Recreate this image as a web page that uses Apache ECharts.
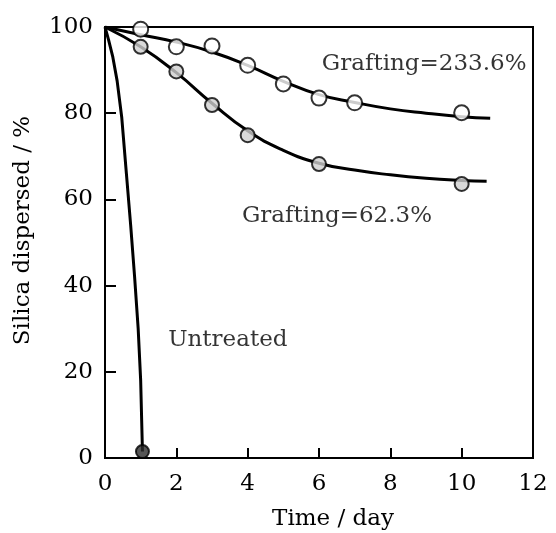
<!DOCTYPE html>
<html>
<head>
<meta charset="utf-8">
<script src="https://cdn.jsdelivr.net/npm/echarts@6/dist/echarts.min.js"></script>
<style>
html,body{margin:0;padding:0;background:#fff;}
#c{width:556px;height:533px;}
</style>
</head>
<body>
<div id="c"></div>
<script>
// Axis ticks
var xTicks = [0, 2, 4, 6, 8, 10, 12];
var yTicks = [0, 20, 40, 60, 80, 100];

// Measured points: Grafting = 233.6% (open circles)
var g233Days = [1, 2, 3, 4, 5, 6, 7, 10];
var g233Vals = [99.5, 95.4, 95.6, 91.1, 86.8, 83.5, 82.4, 80.1];

// Measured points: Grafting = 62.3% (shaded circles)
var g62Days = [1, 2, 3, 4, 6, 10];
var g62Vals = [95.4, 89.7, 81.9, 74.9, 68.2, 63.6];

// Measured point: Untreated
var untDays = [1.05];
var untVals = [1.5];

// Fitted curves
var g233CurveX = [0, 1, 2, 3, 4, 5, 6, 7, 8, 9, 10, 10.8];
var g233CurveY = [100, 98.2, 96.5, 94.2, 91.1, 87.4, 84.3, 82.5, 81.0, 80.0, 79.2, 78.8];
var g62CurveX = [0, 1, 2, 3, 4, 5, 6, 7, 8, 9, 10, 10.7];
var g62CurveY = [100, 95.4, 89.4, 82.3, 75.9, 71.4, 68.4, 66.8, 65.7, 64.9, 64.4, 64.2];
var untCurveX = [0, 0.1, 0.22, 0.34, 0.47, 0.6, 0.72, 0.83, 0.93, 1.0, 1.05];
var untCurveY = [100, 97, 93, 87.5, 79, 66, 54, 42, 30, 18, 1.5];

// Annotation texts and anchor (data coords, left edge / vertical centre)
var annoText = ['Grafting=233.6%', 'Grafting=62.3%', 'Untreated'];
var annoX = [6.08, 3.84, 1.77];
var annoY = [91.4, 56.1, 27.4];

function zip(a, b) { return a.map(function (v, i) { return [v, b[i]]; }); }

var FONT = 'DejaVu Serif';
var chart = echarts.init(document.getElementById('c'), null, {renderer: 'canvas'});

var curveStyle = {color: '#000', width: 3, join: 'round'};

chart.setOption({
  animation: false,
  backgroundColor: '#fff',
  grid: {left: 105, right: 23, top: 27, bottom: 75, show: true, borderColor: '#000', borderWidth: 2, backgroundColor: 'transparent', containLabel: false, outerBoundsMode: 'none'},
  xAxis: {
    type: 'value', min: xTicks[0], max: xTicks[xTicks.length - 1], interval: 2,
    name: 'Time / day', nameLocation: 'middle', nameGap: 50,
    nameTextStyle: {fontFamily: FONT, fontSize: 23, color: '#000', padding: [0, 0, 0, 28]},
    axisLine: {show: true, lineStyle: {color: '#000', width: 2}},
    axisTick: {show: true, inside: true, length: 10, lineStyle: {color: '#000', width: 2}},
    axisLabel: {fontFamily: FONT, fontSize: 23, color: '#000', margin: 15},
    splitLine: {show: false}
  },
  yAxis: {
    type: 'value', min: yTicks[0], max: yTicks[yTicks.length - 1], interval: 20,
    name: 'Silica dispersed / %', nameLocation: 'middle', nameGap: 70,
    nameTextStyle: {fontFamily: FONT, fontSize: 23, color: '#000', padding: [0, 0, 0, 24]},
    axisLine: {show: true, lineStyle: {color: '#000', width: 2}},
    axisTick: {show: true, inside: true, length: 11, lineStyle: {color: '#000', width: 2}},
    axisLabel: {fontFamily: FONT, fontSize: 23, color: '#000', margin: 12},
    splitLine: {show: false}
  },
  series: [
    {type: 'line', data: zip(untCurveX, untCurveY), smooth: false, showSymbol: false, lineStyle: curveStyle, z: 2},
    {type: 'line', data: zip(g233CurveX, g233CurveY), smooth: 0.5, showSymbol: false, lineStyle: curveStyle, z: 2},
    {type: 'line', data: zip(g62CurveX, g62CurveY), smooth: 0.5, showSymbol: false, lineStyle: curveStyle, z: 2},
    {type: 'scatter', data: zip(g233Days, g233Vals), symbol: 'circle', symbolSize: 15,
     itemStyle: {color: '#fff', borderColor: '#000', borderWidth: 2}, z: 5},
    {type: 'scatter', data: zip(g62Days, g62Vals), symbol: 'circle', symbolSize: 14,
     itemStyle: {color: '#cfcfcf', borderColor: '#000', borderWidth: 2}, z: 5},
    {type: 'scatter', data: zip(untDays, untVals), symbol: 'circle', symbolSize: 13,
     itemStyle: {color: '#2a2a2a', borderColor: '#000', borderWidth: 2}, z: 5},
    {type: 'scatter', symbolSize: 0, z: 6, silent: true,
     data: annoText.map(function (t, i) { return {value: [annoX[i], annoY[i]], name: t}; }),
     label: {show: true, position: 'right', distance: 0, formatter: '{b}', fontFamily: FONT, fontSize: 23, color: '#000'}}
  ]
});
</script>
</body>
</html>
